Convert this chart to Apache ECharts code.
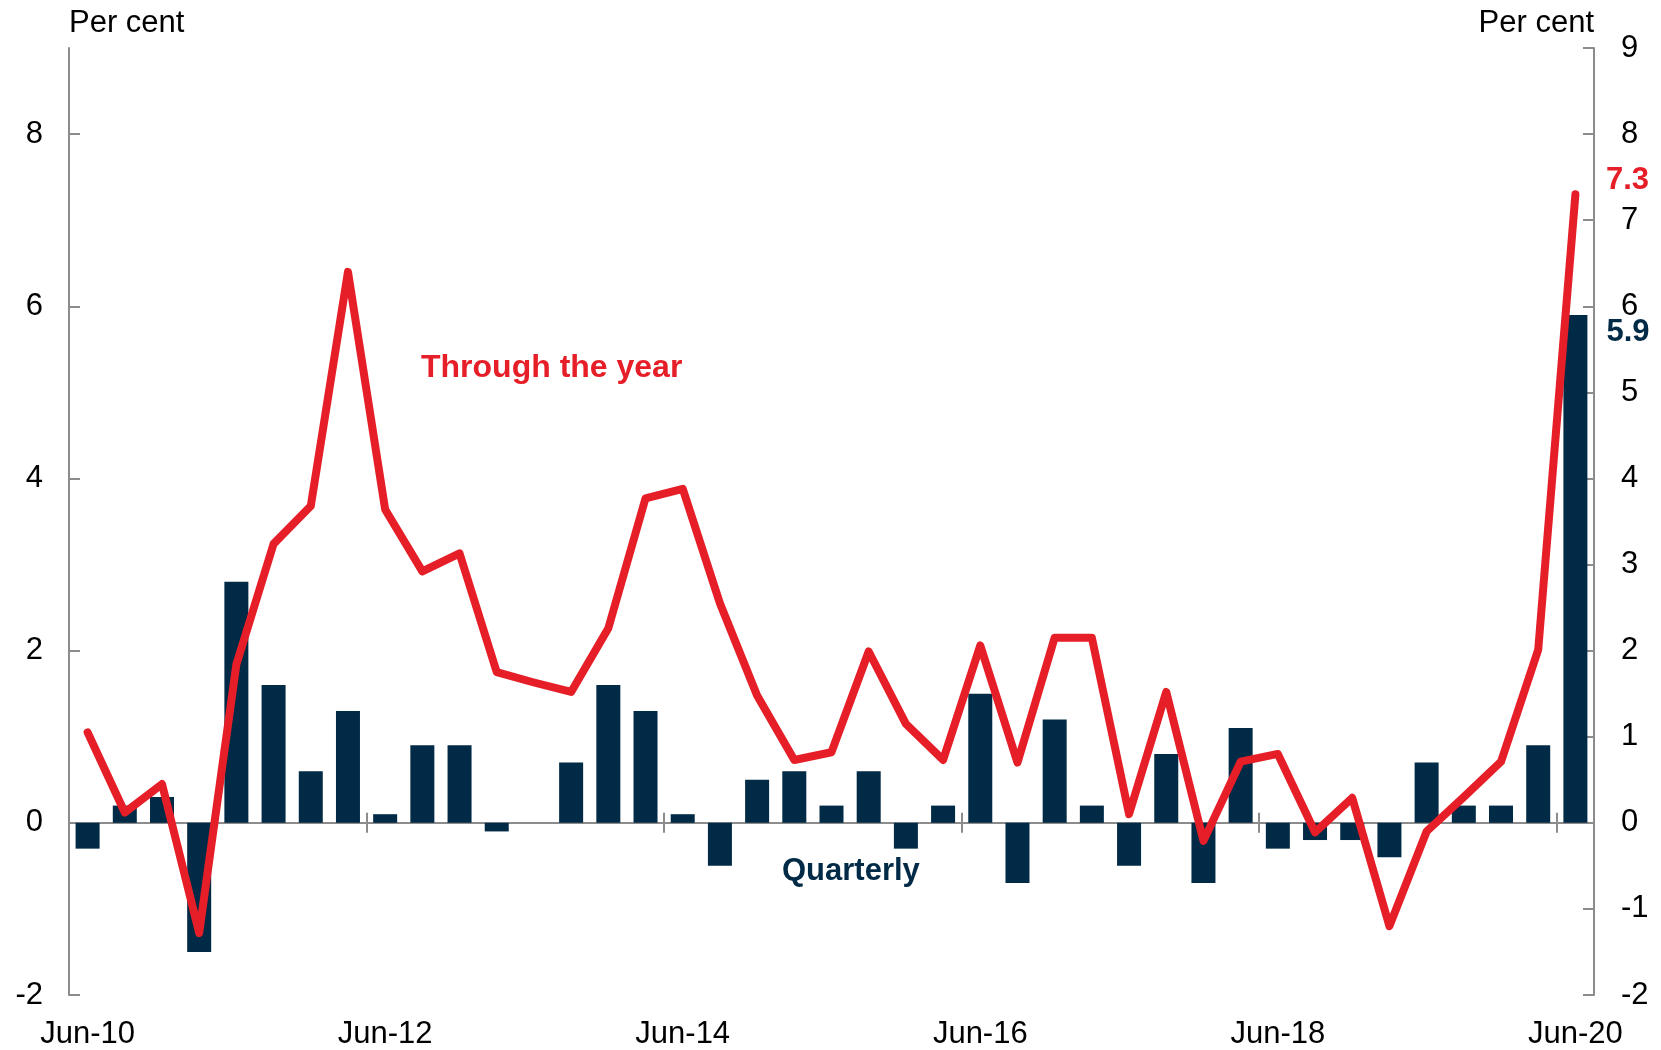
<!DOCTYPE html>
<html>
<head>
<meta charset="utf-8">
<script src="https://cdn.jsdelivr.net/npm/echarts@6/dist/echarts.min.js"></script>
<style>
  html, body { margin: 0; padding: 0; background: #ffffff; }
  #chart { width: 1661px; height: 1050px; }
</style>
</head>
<body>
<div id="chart"></div>
<script>
// Quarterly periods, Jun-10 to Jun-20
const quarters = [
  'Jun-10', 'Sep-10', 'Dec-10', 'Mar-11',
  'Jun-11', 'Sep-11', 'Dec-11', 'Mar-12',
  'Jun-12', 'Sep-12', 'Dec-12', 'Mar-13',
  'Jun-13', 'Sep-13', 'Dec-13', 'Mar-14',
  'Jun-14', 'Sep-14', 'Dec-14', 'Mar-15',
  'Jun-15', 'Sep-15', 'Dec-15', 'Mar-16',
  'Jun-16', 'Sep-16', 'Dec-16', 'Mar-17',
  'Jun-17', 'Sep-17', 'Dec-17', 'Mar-18',
  'Jun-18', 'Sep-18', 'Dec-18', 'Mar-19',
  'Jun-19', 'Sep-19', 'Dec-19', 'Mar-20',
  'Jun-20'
];

// Quarterly growth, per cent (bars)
const quarterly = [
  -0.3, 0.2, 0.3, -1.5,
  2.8, 1.6, 0.6, 1.3,
  0.1, 0.9, 0.9, -0.1,
  0.0, 0.7, 1.6, 1.3,
  0.1, -0.5, 0.5, 0.6,
  0.2, 0.6, -0.3, 0.2,
  1.5, -0.7, 1.2, 0.2,
  -0.5, 0.8, -0.7, 1.1,
  -0.3, -0.2, -0.2, -0.4,
  0.7, 0.2, 0.2, 0.9,
  5.9
];

// Through-the-year growth, per cent (line)
const throughYear = [
  1.05, 0.12, 0.45, -1.28,
  1.84, 3.24, 3.68, 6.4,
  3.64, 2.92, 3.13, 1.75,
  1.63, 1.52, 2.26, 3.77,
  3.88, 2.55, 1.48, 0.73,
  0.82, 1.99, 1.15, 0.73,
  2.06, 0.7, 2.15, 2.15,
  0.1, 1.52, -0.21, 0.71,
  0.8, -0.11, 0.29, -1.2,
  -0.1, 0.3, 0.71, 2.01,
  7.3
];

// Axis tick values
const leftTicks = [-2, 0, 2, 4, 6, 8];
const rightTicks = [-2, -1, 0, 1, 2, 3, 4, 5, 6, 7, 8, 9];

const RED = '#E61E28';
const NAVY = '#002A45';
const AXIS_GREY = '#8c8c8c';
const FONT = 'Liberation Sans';
const FS = 31;

const last = quarters.length - 1;

// the latest quarter carries its value as a label
const barData = quarterly.map((v, i) => i === last ? {
  value: v,
  label: {
    show: true,
    position: ['100%', 0],
    align: 'left',
    verticalAlign: 'middle',
    offset: [19, 18],
    formatter: (p) => p.value.toFixed(1),
    color: NAVY,
    fontFamily: FONT,
    fontWeight: 'bold',
    fontSize: FS
  }
} : v);

const lineData = throughYear.map((v, i) => i === last ? {
  value: v,
  label: {
    show: true,
    position: 'right',
    distance: 30,
    offset: [0, -14],
    formatter: (p) => p.value.toFixed(1),
    color: RED,
    fontFamily: FONT,
    fontWeight: 'bold',
    fontSize: FS
  }
} : v);

const chart = echarts.init(document.getElementById('chart'), null, { renderer: 'canvas' });

const baseX = {
  type: 'category',
  data: quarters,
  boundaryGap: true
};

chart.setOption({
  backgroundColor: '#ffffff',
  animation: false,
  grid: { left: 69, right: 67, top: 48, bottom: 54, containLabel: false },
  xAxis: [
    // date labels along the bottom of the plot
    Object.assign({}, baseX, {
      position: 'bottom',
      axisLine: { show: false, onZero: false },
      axisTick: { show: false },
      axisLabel: {
        interval: 7,
        margin: 24,
        color: '#000',
        fontFamily: FONT,
        fontSize: FS
      }
    }),
    // zero line with downward ticks
    Object.assign({}, baseX, {
      position: 'bottom',
      axisLine: { show: true, onZero: true, onZeroAxisIndex: 0, lineStyle: { color: AXIS_GREY, width: 2 } },
      axisTick: { show: true, interval: 7, inside: false, length: 10, lineStyle: { color: AXIS_GREY, width: 2 } },
      axisLabel: { show: false }
    }),
    // upward half of the zero-line ticks
    Object.assign({}, baseX, {
      position: 'bottom',
      axisLine: { show: false, onZero: true, onZeroAxisIndex: 0 },
      axisTick: { show: true, interval: 7, inside: true, length: 10, lineStyle: { color: AXIS_GREY, width: 2 } },
      axisLabel: { show: false }
    })
  ],
  yAxis: [
    {
      type: 'value',
      position: 'left',
      min: -2,
      max: 9,
      interval: 1,
      name: 'Per cent',
      nameLocation: 'end',
      nameGap: 25,
      nameTextStyle: { align: 'left', verticalAlign: 'middle', color: '#000', fontFamily: FONT, fontSize: FS },
      splitLine: { show: false },
      axisLine: { show: true, lineStyle: { color: AXIS_GREY, width: 2 } },
      axisTick: { show: true, inside: true, length: 11, customValues: leftTicks, lineStyle: { color: AXIS_GREY, width: 2 } },
      axisLabel: { customValues: leftTicks, margin: 26, color: '#000', fontFamily: FONT, fontSize: FS }
    },
    {
      type: 'value',
      position: 'right',
      min: -2,
      max: 9,
      interval: 1,
      name: 'Per cent',
      nameLocation: 'end',
      nameGap: 25,
      nameTextStyle: { align: 'right', verticalAlign: 'middle', color: '#000', fontFamily: FONT, fontSize: FS },
      splitLine: { show: false },
      axisLine: { show: true, lineStyle: { color: AXIS_GREY, width: 2 } },
      axisTick: { show: true, inside: true, length: 11, customValues: rightTicks, lineStyle: { color: AXIS_GREY, width: 2 } },
      axisLabel: { customValues: rightTicks, margin: 27, color: '#000', fontFamily: FONT, fontSize: FS }
    }
  ],
  series: [
    {
      name: 'Quarterly',
      type: 'bar',
      xAxisIndex: 0,
      yAxisIndex: 0,
      data: barData,
      barWidth: 24,
      itemStyle: { color: NAVY },
      z: 2
    },
    {
      name: 'Through the year',
      type: 'line',
      xAxisIndex: 0,
      yAxisIndex: 1,
      data: lineData,
      symbol: 'circle',
      symbolSize: 1,
      showAllSymbol: true,
      itemStyle: { color: RED },
      lineStyle: { color: RED, width: 8, cap: 'round', join: 'round' },
      z: 3
    }
  ],
  graphic: [
    {
      type: 'text',
      left: 421,
      top: 352,
      style: {
        text: 'Through the year',
        fill: RED,
        font: 'bold 32px "Liberation Sans"'
      }
    },
    {
      type: 'text',
      left: 782,
      top: 856,
      style: {
        text: 'Quarterly',
        fill: NAVY,
        font: 'bold 31px "Liberation Sans"'
      }
    }
  ]
});
</script>
</body>
</html>
